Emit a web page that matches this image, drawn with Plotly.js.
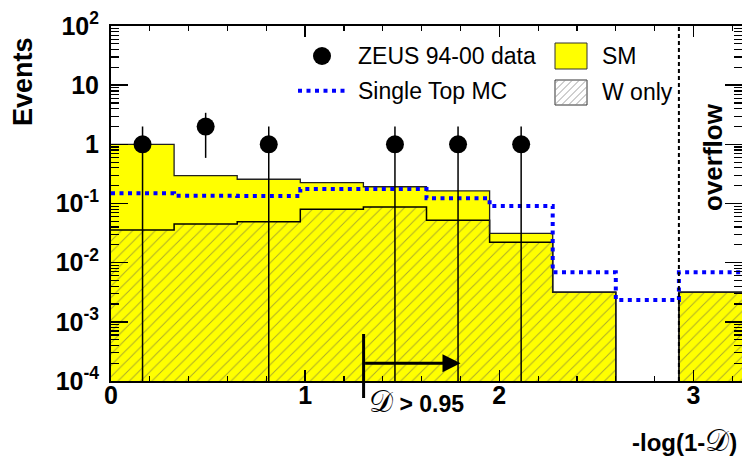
<!DOCTYPE html>
<html>
<head>
<meta charset="utf-8">
<script src="https://cdn.plot.ly/plotly-3.0.1.min.js"></script>
<style>
  html, body { margin: 0; padding: 0; background: #fff; overflow: hidden; }
  #chart { width: 742px; height: 457px; }
</style>
</head>
<body>
<div id="chart"></div>
<script>
// Binning in -log(1-D): nine regular bins plus the overflow bin
const binEdges   = [0, 0.325, 0.65, 0.975, 1.3, 1.625, 1.95, 2.275, 2.6, 2.925, 3.25];
const binCenters = [0.1625, 0.4875, 0.8125, 1.1375, 1.4625, 1.7875, 2.1125, 2.4375, 2.7625, 3.0875];

// ZEUS 94-00 data (events per bin) and their errors
const dataCounts  = [1, 2, 1, 0, 1, 1, 1, 0, 0, 0];
const dataErrUp   = [1, 1.41, 1, 0, 1, 1, 1, 0, 0, 0];
const dataErrDown = [1, 1.41, 1, 0, 1, 1, 1, 0, 0, 0];

// Standard Model expectation, its W-production part, and the single-top MC
const smTotal   = [1.0, 0.295, 0.257, 0.225, 0.192, 0.164, 0.0313, 0.00316, 0, 0.00316];
const wOnly     = [0.0357, 0.045, 0.049, 0.0798, 0.0873, 0.052, 0.0221, 0.00316, 0, 0.00316];
const singleTop = [0.1486, 0.1355, 0.134, 0.176, 0.176, 0.1225, 0.0908, 0.00687, 0.00234, 0.00687];

// Cut D > 0.95 and the start of the overflow bin
const cutValue = 1.301;
const arrowEnd = 1.8;
const arrowLevel = -3.7;       // log10 of the arrow height
const overflowEdge = 2.925;

const yTickVals = [1e-4, 1e-3, 1e-2, 1e-1, 1, 10, 100];
const yTickText = ['10<sup>-4</sup>', '10<sup>-3</sup>', '10<sup>-2</sup>', '10<sup>-1</sup>', '1', '10', '10<sup>2</sup>'];
const xTickVals = [0, 1, 2, 3];
const xTickText = ['0', '1', '2', '3'];

// frame geometry (pixels) and helpers converting to paper coordinates
const L = 111, R = 742, T = 26, B = 381;
const px = x => (x - L) / (R - L);
const py = y => (B - y) / (B - T);

const FONT = 'Liberation Sans, Arial, Helvetica, sans-serif';
const stepY = v => v.concat([v[v.length - 1]]);

const traces = [
  { // SM total, yellow fill
    type: 'bar', x: binCenters, y: smTotal, width: 0.325,
    marker: { color: '#ffff00', line: { width: 0 } },
    hoverinfo: 'skip', showlegend: false
  },
  { // W only, hatched
    type: 'bar', x: binCenters, y: wOnly, width: 0.325,
    marker: { color: 'rgba(0,0,0,0)', line: { width: 0 },
      pattern: { shape: '/', fgcolor: '#555', size: 8, solidity: 0.12, fillmode: 'overlay' } },
    hoverinfo: 'skip', showlegend: false
  },
  { // W only outline
    type: 'scatter', mode: 'lines', x: binEdges, y: stepY(wOnly),
    line: { shape: 'hv', color: '#000', width: 1.5 },
    hoverinfo: 'skip', showlegend: false
  },
  { // SM outline
    type: 'scatter', mode: 'lines', x: binEdges, y: stepY(smTotal),
    line: { shape: 'hv', color: '#222', width: 1.3 },
    hoverinfo: 'skip', showlegend: false
  },
  { // Single top MC
    type: 'scatter', mode: 'lines', x: binEdges, y: stepY(singleTop),
    line: { shape: 'hv', color: '#0000ff', width: 4, dash: '4px,4.5px' },
    hoverinfo: 'skip', showlegend: false
  },
  { // data
    type: 'scatter', mode: 'markers', x: binCenters, y: dataCounts,
    marker: { color: '#000', size: 18 },
    error_y: { type: 'data', symmetric: false, array: dataErrUp, arrayminus: dataErrDown,
      color: '#000', thickness: 1.5, width: 0 },
    hoverinfo: 'skip', showlegend: false
  }
];

// hatch lines for the "W only" legend box
function hatchPath(x0, y0, x1, y1, step) {
  let d = '';
  for (let c = x0 + y0 + step / 2; c < x1 + y1; c += step) {
    const xa = Math.max(x0, c - y1), xb = Math.min(x1, c - y0);
    if (xb <= xa) continue;
    d += `M${px(xa)},${py(c - xa)}L${px(xb)},${py(c - xb)}`;
  }
  return d;
}

const shapes = [
  // overflow separator
  { type: 'line', xref: 'x', yref: 'paper', x0: overflowEdge, x1: overflowEdge, y0: 0, y1: 1,
    line: { color: '#000', width: 2, dash: '4px,3px' }, layer: 'above' },
  // cut marker
  { type: 'line', xref: 'x', yref: 'paper', x0: cutValue, x1: cutValue, y0: py(398), y1: py(334),
    line: { color: '#000', width: 3 }, layer: 'above' },
  // legend: data marker
  { type: 'circle', xref: 'paper', yref: 'paper', x0: px(313), x1: px(331), y0: py(65), y1: py(47),
    fillcolor: '#000', line: { width: 0 } },
  // legend: single top line
  { type: 'line', xref: 'paper', yref: 'paper', x0: px(298), x1: px(345), y0: py(90.7), y1: py(90.7),
    line: { color: '#0000ff', width: 4, dash: '4px,4.5px' } },
  // legend: SM box
  { type: 'rect', xref: 'paper', yref: 'paper', x0: px(555), x1: px(587), y0: py(69), y1: py(43),
    fillcolor: '#ffff00', line: { color: '#333', width: 1 } },
  // legend: W only box
  { type: 'rect', xref: 'paper', yref: 'paper', x0: px(555), x1: px(587), y0: py(105), y1: py(80),
    fillcolor: '#fff', line: { color: '#333', width: 1 } },
  { type: 'path', xref: 'paper', yref: 'paper', path: hatchPath(555, 80, 587, 105, 7),
    line: { color: '#888', width: 0.8 } }
];

const legendText = (x, y, text) => ({
  xref: 'paper', yref: 'paper', x: px(x), y: py(y), xanchor: 'left', yanchor: 'middle',
  text: text, showarrow: false, font: { family: FONT, size: 23, color: '#000' }
});

const SCRIPT_D = '<span style="font-family:\'DejaVu Serif\',serif;font-weight:normal;font-size:30px">𝒟</span>';

const annotations = [
  legendText(356, 56, 'ZEUS 94-00 data'),
  legendText(356, 91, 'Single Top MC'),
  legendText(600, 56, 'SM'),
  legendText(600, 92, 'W only'),
  { // arrow for D > 0.95
    xref: 'x', yref: 'y', axref: 'x', ayref: 'y', x: arrowEnd, y: arrowLevel, ax: cutValue, ay: arrowLevel,
    text: '', showarrow: true, arrowhead: 2, arrowsize: 1.2, arrowwidth: 3, arrowcolor: '#000'
  },
  { xref: 'paper', yref: 'paper', x: px(367), y: py(401), xanchor: 'left', yanchor: 'middle',
    text: SCRIPT_D + ' <b>&gt; 0.95</b>', showarrow: false,
    font: { family: FONT, size: 23, color: '#000' } },
  { xref: 'paper', yref: 'paper', x: px(739), y: py(440), xanchor: 'right', yanchor: 'middle',
    text: '<b>-log(1-</b>' + SCRIPT_D + '<b>)</b>', showarrow: false,
    font: { family: FONT, size: 24, color: '#000' } },
  { xref: 'paper', yref: 'paper', x: px(23), y: py(82), xanchor: 'center', yanchor: 'middle',
    text: '<b>Events</b>', textangle: -90, showarrow: false,
    font: { family: FONT, size: 27, color: '#000' } },
  { xref: 'paper', yref: 'paper', x: px(713), y: py(157), xanchor: 'center', yanchor: 'middle',
    text: '<b>overflow</b>', textangle: -90, showarrow: false,
    font: { family: FONT, size: 26, color: '#000' } }
];

const layout = {
  width: 742, height: 457,
  margin: { l: L, r: 742 - R, t: T, b: 457 - B, pad: 0 },
  paper_bgcolor: '#fff', plot_bgcolor: '#fff',
  barmode: 'overlay', bargap: 0,
  showlegend: false,
  xaxis: {
    range: [0, 3.25], tickmode: 'array', tickvals: xTickVals, ticktext: xTickText,
    ticks: 'inside', ticklen: 11, tickwidth: 1.5, tickcolor: '#000',
    minor: { ticks: 'inside', ticklen: 5, tickwidth: 1.2, tickcolor: '#000', tick0: 0, dtick: 0.2, showgrid: false },
    showline: true, linecolor: '#000', linewidth: 2, mirror: 'ticks',
    showgrid: false, zeroline: false, ticklabelstandoff: -9,
    tickfont: { family: FONT, size: 25, color: '#000', weight: 'bold' }
  },
  yaxis: {
    type: 'log', range: [-4, 2], tickmode: 'array', tickvals: yTickVals, ticktext: yTickText,
    ticks: 'inside', ticklen: 17, tickwidth: 1.5, tickcolor: '#000',
    minor: { ticks: 'inside', ticklen: 8, tickwidth: 1.2, tickcolor: '#000', dtick: 'D1', showgrid: false },
    showline: true, linecolor: '#000', linewidth: 2, mirror: 'ticks',
    showgrid: false, zeroline: false, ticklabelstandoff: 5,
    tickfont: { family: FONT, size: 25, color: '#000', weight: 'bold' }
  },
  shapes: shapes,
  annotations: annotations
};

Plotly.newPlot('chart', traces, layout, { staticPlot: true, displayModeBar: false });
</script>
</body>
</html>
